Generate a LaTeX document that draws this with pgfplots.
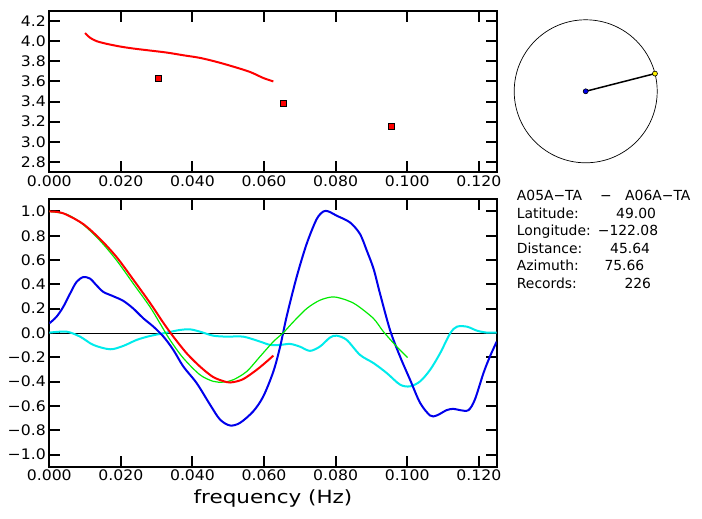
\documentclass[border=0pt]{standalone}
\usepackage{fontspec}
\setmainfont{DejaVu Sans}
\newfontfamily\labf[FakeStretch=1.18]{DejaVu Sans}
\newfontfamily\tickf[FakeStretch=1.08]{DejaVu Sans}
\usepackage{pgfplots}
\pgfplotsset{compat=1.18}
\definecolor{cblue}{RGB}{0,0,235}
\definecolor{cgreen}{RGB}{0,235,0}
\definecolor{ccyan}{RGB}{0,235,235}
\pgfplotsset{panel/.style={scale only axis, anchor=south west,
  axis line style={line width=2pt}, every tick/.style={line width=2pt, black},
  major tick length=11pt, tick align=inside,
  ticklabel style={font=\tickf\fontsize{14.5}{17}\selectfont},
  xmin=0, xmax=0.125, xtick={0,0.02,0.04,0.06,0.08,0.1,0.12},
  xticklabels={0.000,0.020,0.040,0.060,0.080,0.100,0.120},
  width=447.4pt}}
\begin{document}
\begin{tikzpicture}
\path[use as bounding box] (0,0) rectangle (702pt,519pt);
% top panel
\begin{axis}[panel, at={(49.3pt,347pt)}, height=161pt, ymin=2.7, ymax=4.3,
  ytick={2.8,3.0,3.2,3.4,3.6,3.8,4.0,4.2},
  yticklabels={2.8,3.0,3.2,3.4,3.6,3.8,4.0,4.2}]
\addplot[red, line width=2pt, smooth] coordinates {
(0.0100,4.080) (0.0114,4.034) (0.01324,4.000) (0.0160,3.974) (0.01976,3.947)
(0.02348,3.927) (0.02814,3.907) (0.0328,3.887) (0.03745,3.860) (0.0421,3.834)
(0.04678,3.794) (0.05142,3.747) (0.0561,3.694) (0.0598,3.634) (0.0626,3.600)};
\addplot[only marks, mark=square*, mark size=3pt, mark options={fill=red, draw=black, line width=0.8pt}] coordinates {
(0.03057,3.63) (0.0654,3.384) (0.0955,3.15)};
\end{axis}
% bottom panel
\begin{axis}[panel, at={(49.3pt,52.3pt)}, height=267.4pt, ymin=-1.1, ymax=1.1,
  ytick={-1,-0.8,-0.6,-0.4,-0.2,0,0.2,0.4,0.6,0.8,1},
  yticklabels={−1.0,−0.8,−0.6,−0.4,−0.2,0.0,0.2,0.4,0.6,0.8,1.0},
  xlabel={frequency (Hz)},
  xlabel style={font=\labf\fontsize{18.2}{21}\selectfont, yshift=-2pt}]
\addplot[black, line width=0.8pt] coordinates {(0,0) (0.125,0)};
\addplot[ccyan, line width=2pt, smooth] coordinates {
(0,0.003) (0.0048,0.011) (0.0086,-0.03) (0.0123,-0.098) (0.017,-0.134) (0.0207,-0.106)
(0.0244,-0.057) (0.0281,-0.025) (0.0328,0.003) (0.0365,0.025) (0.0393,0.03) (0.0421,0.011)
(0.0458,-0.022) (0.0496,-0.03) (0.0542,-0.03) (0.0589,-0.071) (0.0617,-0.098) (0.0645,-0.098)
(0.0673,-0.09) (0.07,-0.112) (0.0728,-0.147) (0.0756,-0.112) (0.0784,-0.038) (0.0803,-0.022)
(0.0831,-0.057) (0.0868,-0.18) (0.0906,-0.248) (0.0943,-0.33) (0.098,-0.425) (0.1008,-0.439)
(0.1036,-0.398) (0.1064,-0.303) (0.1092,-0.166) (0.112,-0.003) (0.1139,0.052) (0.1167,0.052)
(0.1195,0.019) (0.1223,0.003) (0.125,0.003)};
\addplot[cblue, line width=2pt, smooth] coordinates {
(0,0.079) (0.002,0.133) (0.0039,0.215) (0.0058,0.324) (0.0076,0.42) (0.0095,0.46)
(0.0114,0.447) (0.0132,0.392) (0.0151,0.338) (0.0179,0.302) (0.0207,0.264) (0.02347,0.201)
(0.0263,0.12) (0.0291,0.052) (0.0319,-0.03) (0.03465,-0.139) (0.03745,-0.276) (0.04117,-0.412)
(0.0449,-0.589) (0.0477,-0.712) (0.0505,-0.761) (0.0533,-0.739) (0.057,-0.644) (0.0598,-0.521)
(0.0626,-0.317) (0.0645,-0.112) (0.0663,0.134) (0.0691,0.46) (0.0719,0.733) (0.0747,0.937)
(0.0766,1.0) (0.078,1.0) (0.0803,0.965) (0.084,0.91) (0.0868,0.815) (0.0887,0.678)
(0.0906,0.528) (0.0924,0.324) (0.0952,0.024) (0.098,-0.194) (0.1008,-0.385) (0.1036,-0.575)
(0.1064,-0.679) (0.1082,-0.679) (0.111,-0.635) (0.1129,-0.624) (0.1148,-0.635) (0.1171,-0.635)
(0.1189,-0.548) (0.1213,-0.33) (0.1231,-0.194) (0.125,-0.071)};
\addplot[cgreen, line width=1.2pt, smooth] coordinates {
(0,1.0) (0.005,0.975) (0.0095,0.891) (0.01416,0.76) (0.01882,0.597) (0.02347,0.406)
(0.02813,0.215) (0.03093,0.079) (0.03372,-0.057) (0.03745,-0.207) (0.0421,-0.344)
(0.04583,-0.398) (0.04862,-0.404) (0.0514,-0.385) (0.05514,-0.317) (0.05887,-0.194)
(0.0626,-0.071) (0.0654,0.003) (0.06819,0.092) (0.07191,0.201) (0.07564,0.27)
(0.07936,0.297) (0.08309,0.27) (0.0859,0.229) (0.09055,0.12) (0.09335,0.011)
(0.09707,-0.112) (0.1001,-0.202)};
\addplot[red, line width=2pt, smooth] coordinates {
(0,1.0) (0.0025,0.995) (0.00484,0.973) (0.0095,0.896) (0.01416,0.774) (0.01882,0.624)
(0.02347,0.439) (0.02813,0.248) (0.03186,0.084) (0.03465,-0.03) (0.03838,-0.167)
(0.0421,-0.276) (0.04583,-0.363) (0.04956,-0.404) (0.0514,-0.404) (0.05421,-0.379)
(0.05794,-0.303) (0.06073,-0.235) (0.0626,-0.186)};
\end{axis}
% map
\begin{axis}[scale only axis, anchor=south west, at={(514.2pt,356.2pt)}, width=143pt, height=143pt,
  xmin=-1, xmax=1, ymin=-1, ymax=1, hide axis, clip=false]
\draw[line width=0.7pt] (axis cs:0,0) circle[radius=71.5pt];
\addplot[black, line width=1.5pt] coordinates {(0,0) (0.9688,0.2477)};
\addplot[only marks, mark=*, mark size=2.5pt, mark options={fill=cblue, draw=black, line width=0.6pt}] coordinates {(0,0)};
\addplot[only marks, mark=*, mark size=2.5pt, mark options={fill=yellow, draw=black, line width=0.6pt}] coordinates {(0.9688,0.2477)};
\end{axis}
% info text
\begin{scope}[every node/.style={anchor=base west, inner sep=0pt, font=\fontsize{13.9}{16}\selectfont}]
\node at (516.7pt,318pt) {A05A−TA};
\node at (600pt,318pt) {−};
\node at (625pt,318pt) {A06A−TA};
\node at (516.7pt,300.5pt) {Latitude:};
\node at (616pt,300.5pt) {49.00};
\node at (516.7pt,283pt) {Longitude:};
\node at (597.7pt,283pt) {−122.08};
\node at (516.7pt,265.5pt) {Distance:};
\node at (610pt,265.5pt) {45.64};
\node at (516.7pt,248pt) {Azimuth:};
\node at (604.3pt,248pt) {75.66};
\node at (516.7pt,230.5pt) {Records:};
\node at (624.3pt,230.5pt) {226};
\end{scope}
\end{tikzpicture}
\end{document}
